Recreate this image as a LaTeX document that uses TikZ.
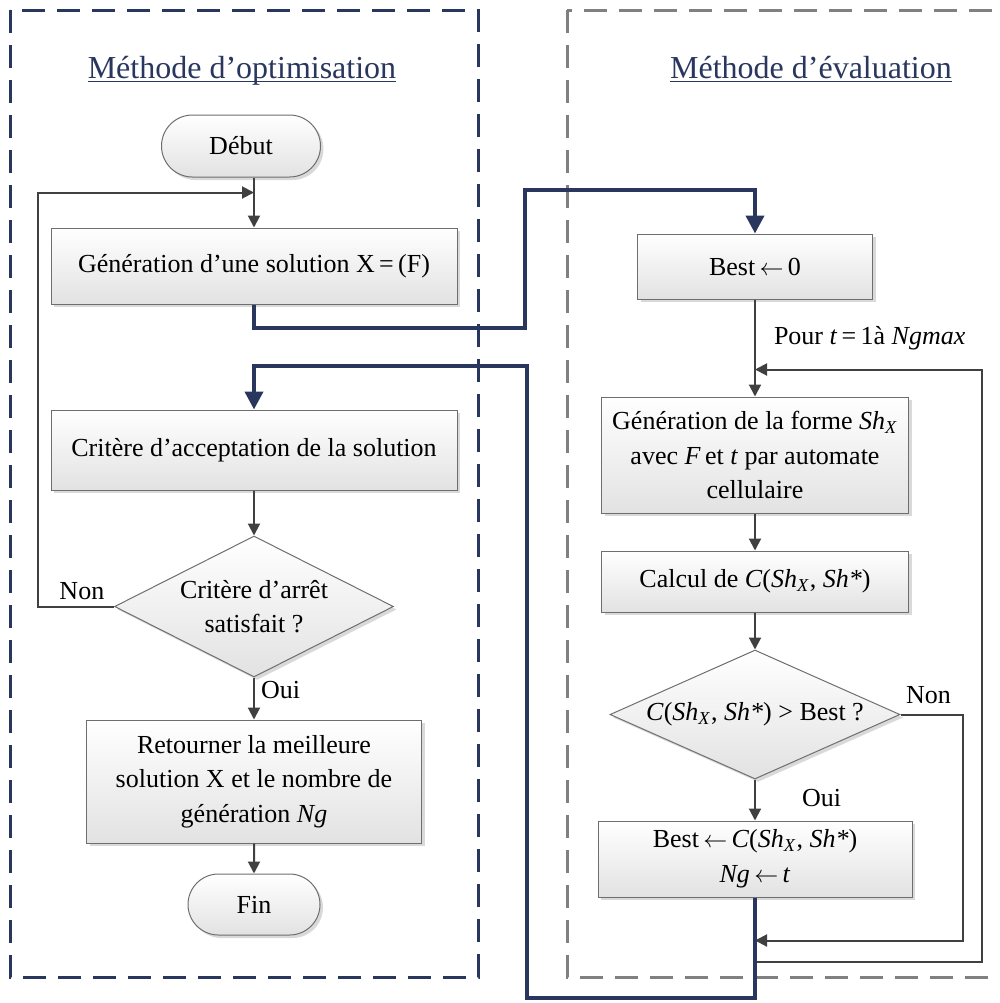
\documentclass[tikz,border=0pt]{standalone}
\usepackage{fontspec}
\setmainfont{Liberation Serif}
\usetikzlibrary{positioning,arrows.meta,calc,shapes.geometric,shapes.misc,shadows}
\definecolor{navy}{RGB}{41,54,94}
\definecolor{framegray}{RGB}{128,128,128}
\definecolor{lineg}{RGB}{64,64,64}
\definecolor{boxline}{RGB}{110,110,110}
\definecolor{boxfill}{RGB}{226,226,226}
\newcommand\bodyfnt{\fontsize{13}{17.3}\selectfont}
\newcommand\ttlfnt{\fontsize{16}{19}\selectfont}
\newcommand\ttlul[1]{\setbox0\hbox{#1}\rlap{\rule[-2.2pt]{\wd0}{0.9pt}}\box0}
\newcommand\shx{\textit{Sh}\textsubscript{\textit{X}}}
\tikzset{
  proc/.style={draw=boxline, line width=0.5pt, top color=white, bottom color=boxfill,
               drop shadow={shadow xshift=1.5pt, shadow yshift=-1.5pt, fill=black!15, opacity=1},
               align=center, font=\bodyfnt, inner sep=2pt},
  term/.style={proc, rounded rectangle},
  decide/.style={proc, diamond, shape aspect=2, inner sep=0pt},
  flow/.style={-{Triangle[length=6pt,width=6pt]}, line width=1pt, draw=lineg},
  link/.style={-{Triangle[length=9pt,width=9pt]}, line width=2pt, draw=navy},
  lbl/.style={font=\bodyfnt, inner sep=3pt},
  zone/.style={line width=1.5pt, dash pattern=on 11.5pt off 6pt},
  ttl/.style={font=\ttlfnt, text=navy, anchor=base},
}
\begin{document}
\begin{tikzpicture}[x=0.5pt, y=-0.5pt]
  \useasboundingbox (0,0) rectangle (1000,1003);
  % cadres
  \draw[zone, navy] (10,10) rectangle (478,977);
  \draw[zone, framegray] (567,10) rectangle (1020,977);
  \node[ttl] (ttlopt) at (242,78) {\ttlul{Méthode d’optimisation}};
  \node[ttl] (ttleval) at (811,78) {\ttlul{Méthode d’évaluation}};

  % methode d'optimisation
  \node[term, minimum width=83.5pt, minimum height=31pt] (debut) at (241,146) {Début};
  \node[proc, minimum width=203pt, minimum height=38pt] (gen) at (254,266) {Génération d’une solution X\,=\,(F)};
  \node[proc, minimum width=203pt, minimum height=40pt, below=52.5pt of gen] (accept) {Critère d’acceptation de la solution};
  \node[decide, minimum width=139.5pt, minimum height=70.5pt, below=22.5pt of accept] (crit) {Critère d’arrêt\\satisfait ?};
  \node[proc, minimum width=167.5pt, minimum height=61.5pt, below=21pt of crit] (ret) {Retourner la meilleure\\solution X et le nombre de\\génération \textit{Ng}};
  \node[term, minimum width=70pt, minimum height=30.5pt, below=15pt of ret] (fin) {Fin};

  % methode d'evaluation
  \node[proc, minimum width=117.5pt, minimum height=32.5pt] (best) at (755,266.5) {Best\,$\leftarrow$\,0};
  \node[proc, minimum width=153.5pt, minimum height=58pt, below=48.5pt of best] (genf) {Génération de la forme \shx\\avec \textit{F}\,et \textit{t} par automate\\cellulaire};
  \node[proc, minimum width=153.5pt, minimum height=30.5pt, below=18.5pt of genf] (cost) {Calcul de \textit{C}(\shx, \textit{Sh*})};
  \node[decide, shape aspect=2.25, minimum width=145pt, minimum height=64.5pt, below=18.5pt of cost] (dec) {\textit{C}(\shx, \textit{Sh*}) > Best ?};
  \node[proc, minimum width=157pt, minimum height=38pt, below=20.5pt of dec] (bestc) {Best\,$\leftarrow$\,\textit{C}(\shx, \textit{Sh*})\\\textit{Ng}\,$\leftarrow$\,\textit{t}};

  \coordinate (jopt) at ($(debut.south -| gen.north)+(0,15)$);
  \coordinate (jloop) at ($(best.south)+(0,70)$);
  \coordinate (jnon) at ($(bestc.south)+(0,43)$);
  \coordinate (jend) at ($(bestc.south)+(0,64)$);

  \draw[flow] (gen.north |- debut.south) -- (gen.north);
  \draw[flow] (accept) -- (crit);
  \draw[flow] (crit) -- node[lbl, right, pos=0.3]{Oui} (ret);
  \draw[flow] (ret) -- (fin);
  \draw[flow] (crit.west) -- ++(-76.5,0) node[lbl, above, pos=0.42]{Non} |- (jopt);

  \draw[flow] (best) -- node[lbl, right, pos=0.4, xshift=6pt]{Pour \textit{t}\,=\,1à \textit{Ngmax}} (genf);
  \draw[flow] (genf) -- (cost);
  \draw[flow] (cost) -- (dec);
  \draw[flow] (dec) -- node[lbl, right, pos=0.45, xshift=20pt]{Oui} (bestc);
  \draw[flow] (dec.east) -- ++(62,0) node[lbl, above, pos=0.45, yshift=2pt]{Non} |- (jnon);
  \draw[flow] (jend) -- ++(227,0) |- (jloop);

  % liaisons entre les deux methodes
  \draw[link] (gen.south) -- ++(0,23) -| (525,190) -| (best.north);
  \draw[link] (bestc.south) |- (527,998) |- (accept.north |- 0,366) -- (accept.north);
\end{tikzpicture}
\end{document}
